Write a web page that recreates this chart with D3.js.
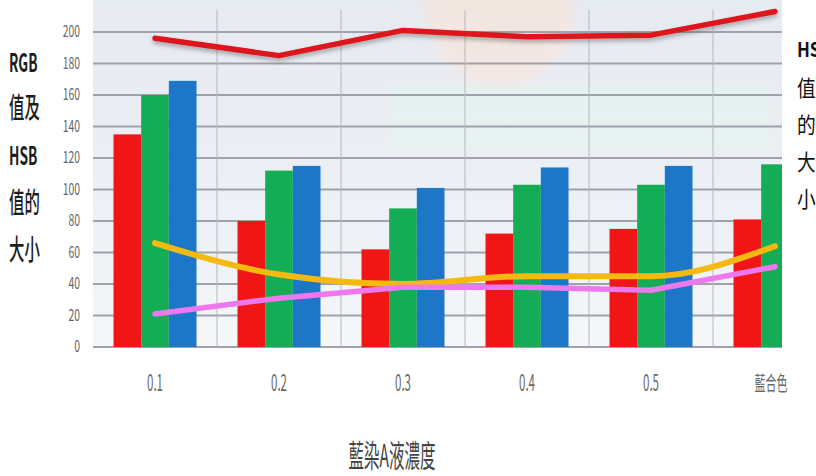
<!DOCTYPE html>
<html>
<head>
<meta charset="utf-8">
<script src="https://cdn.jsdelivr.net/npm/d3@7/dist/d3.min.js"></script>
<style>
  html, body { margin: 0; padding: 0; background: #fff; }
  svg { display: block; }
  text { font-family: "Noto Sans CJK TC", "Noto Sans", sans-serif; }
</style>
</head>
<body>
<svg id="chart" width="816" height="476"></svg>
<script>
// Concentration groups along the x axis
const categories = ["0.1", "0.2", "0.3", "0.4", "0.5", "藍合色"];

// RGB bar values
const rValues = [135, 80, 62, 72, 75, 81];
const gValues = [160, 112, 88, 103, 103, 116];
const bValues = [169, 115, 101, 114, 115, null];

// HSB line values
const hValues = [196, 185, 201, 197, 198, 213];
const sValues = [66, 46, 40, 45, 45, 64];
const brValues = [21, 31, 38, 38, 36, 51];

const yTicks = [0, 20, 40, 60, 80, 100, 120, 140, 160, 180, 200];
const yLabelLines = ["RGB", "值及", "HSB", "值的", "大小"];
const rightLabelLines = ["HS", "值", "的", "大", "小"];
const xTitle = "藍染A液濃度";

const svg = d3.select("#chart");
const plot = { left: 93, right: 782, top: 10, bottom: 347 };

const x0 = d3.scaleBand().domain(categories).range([93, 837]).padding(0);
const x1 = d3.scaleBand().domain(["R", "G", "B"])
  .range([20.5, x0.bandwidth() - 20.5]).padding(0);
const y = d3.scaleLinear().domain([0, 215]).range([plot.bottom, plot.bottom - 215 * 1.575]);

const defs = svg.append("defs");
defs.append("clipPath").attr("id", "plotClip")
  .append("rect")
  .attr("x", plot.left).attr("y", 0)
  .attr("width", plot.right - plot.left).attr("height", plot.bottom + 2);

const bg = defs.append("linearGradient").attr("id", "plotBg")
  .attr("x1", 0).attr("y1", 0).attr("x2", 0).attr("y2", 1);
bg.append("stop").attr("offset", "0%").attr("stop-color", "#e6eaf1");
bg.append("stop").attr("offset", "70%").attr("stop-color", "#eef1f5");
bg.append("stop").attr("offset", "100%").attr("stop-color", "#f6f7f9");

const shadow = defs.append("filter").attr("id", "lineShadow")
  .attr("x", "-10%").attr("y", "-50%").attr("width", "120%").attr("height", "200%");
shadow.append("feDropShadow").attr("dx", 0).attr("dy", 3)
  .attr("stdDeviation", 2).attr("flood-color", "#555").attr("flood-opacity", 0.45);

const soft = defs.append("filter").attr("id", "soft");
soft.append("feGaussianBlur").attr("stdDeviation", 0.5);

const haze = defs.append("filter").attr("id", "haze")
  .attr("x", "-30%").attr("y", "-30%").attr("width", "160%").attr("height", "160%");
haze.append("feGaussianBlur").attr("stdDeviation", 6);

// Backdrop of the plotting area
const back = svg.append("g");
back.append("rect")
  .attr("x", plot.left).attr("y", 0)
  .attr("width", plot.right - plot.left).attr("height", plot.bottom)
  .attr("fill", "url(#plotBg)");
back.append("rect").attr("x", 390).attr("y", 84).attr("width", 380).attr("height", 66)
  .attr("fill", "#e3f3ee").attr("opacity", 0.6);
back.append("g").attr("clip-path", "url(#plotClip)")
  .append("circle").attr("cx", 500).attr("cy", 10).attr("r", 75)
  .attr("fill", "#fbe4d8").attr("opacity", 0.6)
  .attr("filter", "url(#haze)");

// Gridlines
const grid = svg.append("g").attr("filter", "url(#soft)");
grid.selectAll("line.h").data(yTicks).join("line")
  .attr("class", "h")
  .attr("x1", plot.left).attr("x2", plot.right)
  .attr("y1", d => y(d)).attr("y2", d => y(d))
  .attr("stroke", "#9ea2ab").attr("stroke-width", 1.8);
grid.selectAll("line.v").data(categories.slice(1)).join("line")
  .attr("class", "v")
  .attr("x1", d => x0(d)).attr("x2", d => x0(d))
  .attr("y1", plot.top).attr("y2", plot.bottom)
  .attr("stroke", "#b4b7bd").attr("stroke-width", 1);

// Y tick labels (narrow type)
svg.append("g").selectAll("text").data(yTicks).join("text")
  .attr("transform", d => `translate(80,${y(d) + 5}) scale(0.65,1)`)
  .attr("text-anchor", "end")
  .attr("font-family", "'Liberation Sans', sans-serif")
  .attr("font-size", 16)
  .attr("fill", "#666")
  .text(d => d);

// Bars
const barColors = { R: "#f01616", G: "#14ad55", B: "#1c77c9" };
const barRows = categories.map((c, i) => ({
  cat: c,
  bars: [
    { key: "R", v: rValues[i] },
    { key: "G", v: gValues[i] },
    { key: "B", v: bValues[i] }
  ].filter(b => b.v != null)
}));
const barLayer = svg.append("g").attr("clip-path", "url(#plotClip)");
barLayer.selectAll("g").data(barRows).join("g")
  .attr("transform", d => `translate(${x0(d.cat)},0)`)
  .selectAll("rect").data(d => d.bars).join("rect")
  .attr("x", d => x1(d.key))
  .attr("width", x1.bandwidth())
  .attr("y", d => y(d.v))
  .attr("height", d => y(0) - y(d.v))
  .attr("fill", d => barColors[d.key]);

// Lines
const cx = c => x0(c) + x0.bandwidth() / 2;
const lineGen = d3.line()
  .x((d, i) => cx(categories[i]))
  .y(d => y(d));
const lineLayer = svg.append("g").attr("clip-path", "url(#plotClip)");
const series = [
  { vals: sValues, color: "#f5b90f", width: 6, curve: d3.curveMonotoneX },
  { vals: brValues, color: "#ef78ee", width: 5.5, curve: d3.curveLinear },
  { vals: hValues, color: "#dc141a", width: 5.5, curve: d3.curveLinear, shadow: true }
];
series.forEach(s => {
  lineLayer.append("path")
    .datum(s.vals)
    .attr("d", lineGen.curve(s.curve))
    .attr("fill", "none")
    .attr("stroke", s.color)
    .attr("stroke-width", s.width)
    .attr("stroke-linejoin", "round")
    .attr("stroke-linecap", "round")
    .attr("filter", s.shadow ? "url(#lineShadow)" : null);
});

// X tick labels
svg.append("g").selectAll("text").data(categories).join("text")
  .attr("transform", d => `translate(${d === "藍合色" ? cx(d) - 4 : cx(d)},391) scale(${d === "藍合色" ? 0.55 : 0.5},1)`)
  .attr("text-anchor", "middle")
  .attr("font-family", d => d === "藍合色" ? "'Noto Sans CJK TC', sans-serif" : "'Liberation Sans', sans-serif")
  .attr("font-size", d => d === "藍合色" ? 20 : 23)
  .attr("fill", "#6a6a6a")
  .text(d => d);

// X axis title
svg.append("text")
  .attr("transform", "translate(392,467) scale(0.5,1)")
  .attr("text-anchor", "middle")
  .attr("font-size", 31)
  .attr("fill", "#444")
  .text(xTitle);

// Y axis title, stacked lines
const yLabelY = [63, 109, 156, 204, 251];
svg.append("g").selectAll("text").data(yLabelLines).join("text")
  .attr("transform", (d, i) => `translate(9,${yLabelY[i] + 9}) scale(0.55,1)`)
  .attr("font-size", d => /[A-Z]/.test(d) ? 25 : 28)
  .attr("font-weight", d => /[A-Z]/.test(d) ? 700 : 500)
  .attr("fill", "#1e1e1e")
  .text(d => d);

// Right side caption, running off the page edge
const rightY = [49, 88, 125, 162, 199];
svg.append("g").selectAll("text").data(rightLabelLines).join("text")
  .attr("transform", (d, i) => `translate(797,${rightY[i] + 8}) scale(0.85,1)`)
  .attr("font-size", d => /[A-Z]/.test(d) ? 20 : 22)
  .attr("font-weight", d => /[A-Z]/.test(d) ? 700 : 400)
  .attr("fill", "#111")
  .text(d => d);
</script>
</body>
</html>
